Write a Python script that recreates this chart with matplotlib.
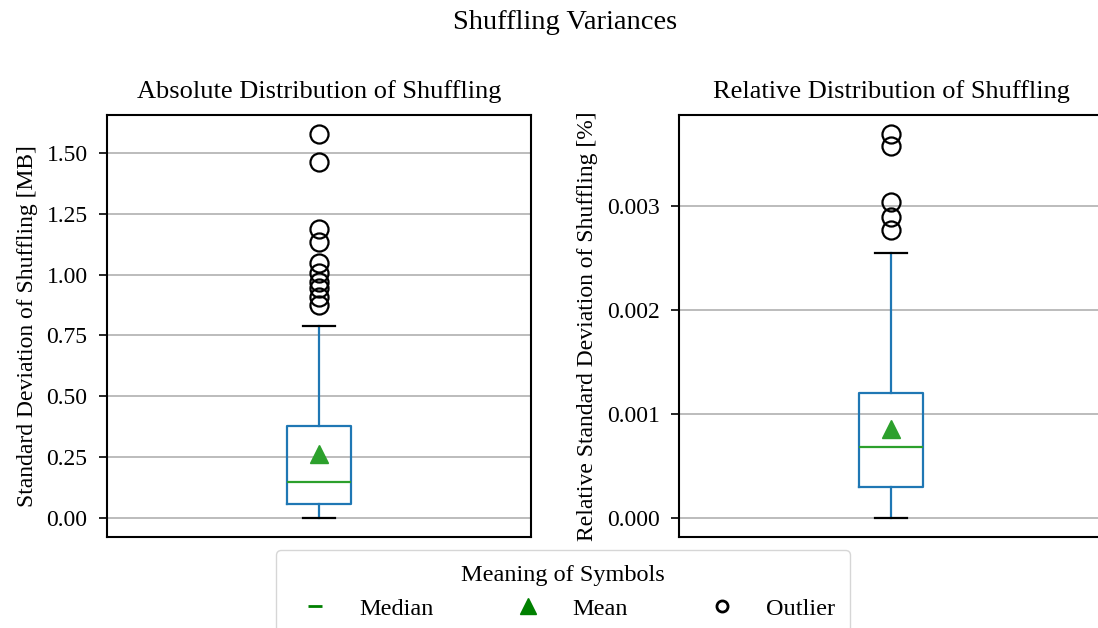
import matplotlib
matplotlib.use("Agg")
import matplotlib.pyplot as plt
from matplotlib.lines import Line2D

plt.rcParams["font.family"] = ["Liberation Serif", "DejaVu Serif"]

# --- data (summary statistics of each box) ---
abs_stats = dict(whislo=0.0, q1=0.058, med=0.149, q3=0.378, whishi=0.79, mean=0.263)
abs_fliers = [1.578, 1.464, 1.19, 1.136, 1.047, 1.006, 0.971, 0.944, 0.91, 0.875]

rel_stats = dict(whislo=0.0, q1=0.000292, med=0.000681, q3=0.001203, whishi=0.002547, mean=0.000858)
rel_fliers = [0.003689, 0.003577, 0.003033, 0.002895, 0.002768]

titles = ["Absolute Distribution of Shuffling", "Relative Distribution of Shuffling"]
ylabels = ["Standard Deviation of Shuffling [MB]", "Relative Standard Deviation of Shuffling [%]"]
abs_ticks = [0.0, 0.25, 0.5, 0.75, 1.0, 1.25, 1.5]
rel_ticks = [0.0, 0.001, 0.002, 0.003]

W, H = 1098, 628
fig = plt.figure(figsize=(W / 100, H / 100), dpi=100)
ax1 = fig.add_axes([107 / W, (H - 537) / H, 424 / W, 422 / H])
ax2 = fig.add_axes([679 / W, (H - 537) / H, 424 / W, 422 / H])

blue, green = "#1f77b4", "#2ca02c"
panels = [
    (ax1, abs_stats, abs_fliers, abs_ticks, "{:.2f}"),
    (ax2, rel_stats, rel_fliers, rel_ticks, "{:.3f}"),
]
for i, (ax, st, fl, ticks, fmt) in enumerate(panels):
    stats = dict(st, fliers=fl)
    ax.bxp([stats], widths=0.15, showmeans=True,
           boxprops=dict(color=blue, linewidth=1.6),
           whiskerprops=dict(color=blue, linewidth=1.6),
           capprops=dict(color="black", linewidth=1.6),
           medianprops=dict(color=green, linewidth=1.6),
           meanprops=dict(marker="^", markerfacecolor=green, markeredgecolor=green, markersize=13),
           flierprops=dict(marker="o", markerfacecolor="none", markeredgecolor="black",
                           markersize=13, markeredgewidth=1.6))
    ax.set_xlim(0.5, 1.5)
    ax.set_xticks([])
    ax.set_yticks(ticks)
    ax.set_yticklabels([fmt.format(t) for t in ticks], fontsize=17)
    ax.tick_params(axis="y", length=6, width=1.2, pad=8)
    ax.yaxis.grid(True, color="#b0b0b0", linewidth=1.2)
    ax.set_axisbelow(True)
    ax.set_title(titles[i], fontsize=19, pad=12)
    ax.set_ylabel(ylabels[i], fontsize=17, labelpad=6)
    for s in ax.spines.values():
        s.set_linewidth(1.5)

fig.suptitle("Shuffling Variances", fontsize=20.5, x=565 / W, y=0.984)

handles = [
    Line2D([], [], linestyle="None", marker="_", color="green", markersize=10, markeredgewidth=2),
    Line2D([], [], linestyle="None", marker="^", color="green", markersize=12),
    Line2D([], [], linestyle="None", marker="o", markerfacecolor="none", markeredgecolor="black",
           markersize=8, markeredgewidth=2),
]
fig.legend(handles, ["Median", "Mean", "Outlier"], title="Meaning of Symbols",
           loc="upper center", bbox_to_anchor=(563 / W, 1 - 550 / H), borderaxespad=0,
           ncol=3, fontsize=17.5, title_fontsize=17.5, columnspacing=2.9, handletextpad=0.8,
           borderpad=0.6, frameon=True, edgecolor="#cccccc")

fig.savefig("out.png", dpi=100)
